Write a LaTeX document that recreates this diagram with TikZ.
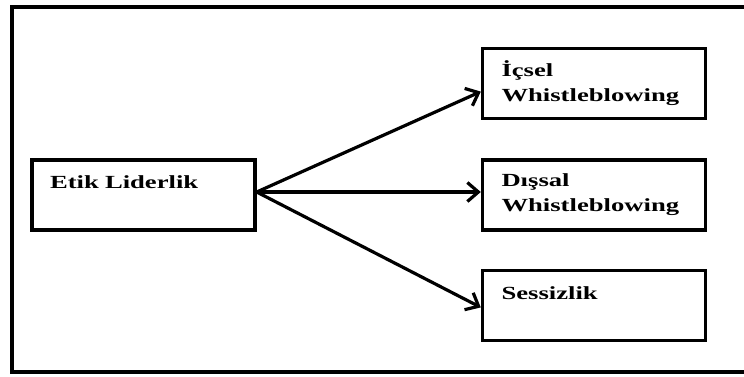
\documentclass[tikz,border=0pt]{standalone}
\usepackage{fontspec}
\setmainfont{Liberation Serif}[FakeStretch=1.44]
\usetikzlibrary{arrows.meta,positioning}

\begin{document}
\begin{tikzpicture}[x=1pt,y=-1pt,
  box/.style={draw,line width=3.4pt,minimum height=70pt,align=left,
    font=\fontsize{18.5}{25}\selectfont\bfseries},
  leftbox/.style={box,text width=187pt,inner xsep=18pt},
  rightbox/.style={box,text width=185pt,inner xsep=19pt},
  link/.style={line width=3.2pt,-{Straight Barb[length=11pt,width=19pt]}}]
\useasboundingbox (0,0) rectangle (744,376);
% outer frame (its right side lies past the edge)
\draw[line width=3.2pt] (744,7) -- (12,7) -- (12,372) -- (744,372);
% source
\node[leftbox] (etik) at (143.5,195) {Etik Liderlik\\~};
% outcomes
\node[rightbox] (dissal) at (594,195) {Dışsal\\Whistleblowing};
\node[rightbox,above=38pt of dissal] (icsel) {İçsel\\Whistleblowing};
\node[rightbox,below=37pt of dissal] (sessiz) {Sessizlik\\~};
% arrows
\draw[link] ([yshift=3pt]etik.east) -- ([yshift=-8pt]icsel.west);
\draw[link] ([yshift=3pt]etik.east) -- ([yshift=3pt]dissal.west);
\draw[link] ([yshift=3pt]etik.east) -- ([yshift=-2pt]sessiz.west);
\end{tikzpicture}
\end{document}
